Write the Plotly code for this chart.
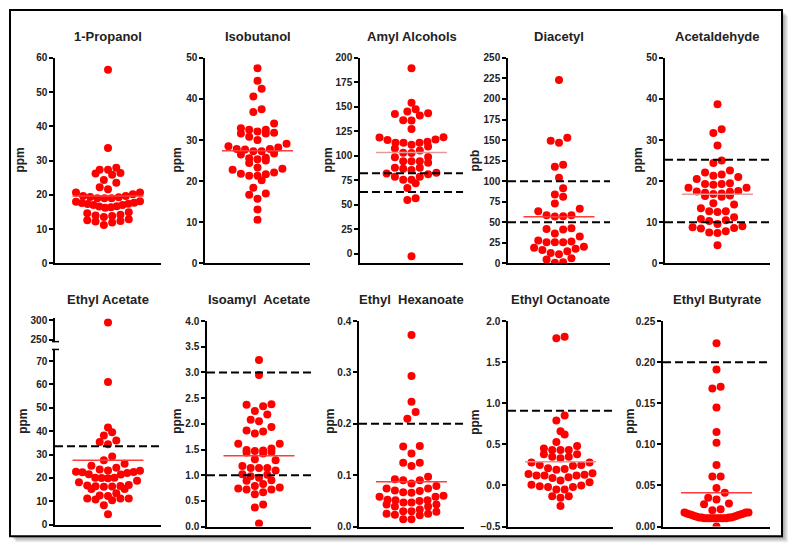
import plotly.graph_objects as go

# ---------------- data ----------------
titles = ["1-Propanol", "Isobutanol", "Amyl Alcohols", "Diacetyl", "Acetaldehyde",
          "Ethyl Acetate", "Isoamyl\u00a0 Acetate", "Ethyl\u00a0 Hexanoate", "Ethyl Octanoate", "Ethyl Butyrate"]
units = ["ppm", "ppm", "ppm", "ppb", "ppm", "ppm", "ppm", "ppm", "ppm", "ppm"]

propanol = [56.5, 33.7, 27.9, 27.3, 27.3, 26.4, 25.9, 26.2, 24.3, 23.5, 22.2, 21.6, 20.7, 20.2, 19.7,
            19.4, 19.0, 19.0, 19.0, 19.3, 19.7, 20.7, 18.0, 17.6, 17.3, 17.0, 16.6, 16.2, 16.4, 16.7,
            17.0, 17.4, 17.7, 18.1, 14.9, 14.2, 13.8, 13.5, 14.0, 14.6, 12.6, 12.2, 11.2, 11.9, 12.4, 12.9]
isobutanol = [47.5, 44.4, 42.5, 40.6, 37.5, 36.8, 34.0, 32.9, 32.5, 32.5, 32.1, 31.8, 31.6, 31.6, 30.8,
              30.0, 29.1, 28.5, 28.2, 27.8, 27.7, 27.8, 27.3, 27.3, 26.7, 26.5, 25.7, 25.6, 25.3, 25.0,
              24.4, 23.3, 23.0, 22.8, 22.1, 21.8, 21.7, 21.3, 21.3, 20.2, 18.4, 17.0, 16.7, 15.7, 13.1, 10.6]
amyl = [189.4, 154.2, 147.5, 145.2, 142.5, 143.5, 141.2, 136.2, 135.9, 127.2, 118.9, 118.6, 116.6, 116.0,
        114.3, 113.3, 113.3, 113.3, 111.3, 109.3, 107.3, 105.3, 102.7, 103.0, 98.3, 98.7, 94.4, 94.4, 94.4,
        92.7, 87.7, 87.7, 86.7, 85.4, 82.7, 81.7, 81.1, 78.4, 78.4, 75.4, 75.4, 71.8, 67.1, 56.5, 54.8, -2.7]
diacetyl = [223.1, 149.1, 146.8, 152.7, 117.5, 119.9, 104.0, 91.4, 83.9, 81.1, 72.8, 66.5, 63.3, 58.5,
            57.0, 57.4, 58.5, 42.7, 41.1, 41.9, 36.4, 32.8, 27.7, 25.7, 25.7, 25.7, 26.5, 20.2, 19.0, 17.8,
            16.2, 14.6, 12.7, 11.1, 4.7, 6.3, 0.8, 1.2]
acetaldehyde = [38.7, 32.6, 31.7, 28.7, 25.0, 24.4, 22.6, 22.1, 21.6, 21.3, 21.0, 20.5, 19.5, 19.3, 19.1,
                19.3, 18.4, 18.4, 17.6, 17.5, 17.4, 17.2, 17.0, 16.9, 16.5, 16.4, 16.2, 14.6, 14.3, 13.4,
                12.7, 12.7, 12.5, 11.2, 10.8, 10.5, 10.3, 9.6, 9.0, 8.8, 8.6, 8.5, 7.8, 7.5, 7.4, 4.4]
ethyl_acetate = [294.1, 61.1, 41.6, 39.5, 38.1, 36.0, 35.4, 34.4, 29.2, 27.6, 26.1, 25.2, 24.3, 23.6, 23.1,
                 22.5, 22.4, 22.1, 22.6, 23.2, 21.6, 21.4, 20.1, 19.8, 20.0, 20.1, 18.8, 18.1, 17.0, 16.5,
                 16.3, 16.2, 16.4, 16.7, 15.2, 15.2, 13.4, 12.5, 12.2, 11.2, 11.2, 11.2, 10.8, 10.4, 8.3, 4.4]
isoamyl = [3.24, 2.95, 2.37, 2.38, 2.34, 2.25, 2.18, 2.08, 2.05, 1.94, 1.87, 1.85, 1.81, 1.61, 1.61, 1.52,
           1.49, 1.47, 1.48, 1.45, 1.44, 1.42, 1.31, 1.29, 1.18, 1.14, 1.14, 1.14, 1.09, 1.02, 1.01, 0.98,
           0.95, 0.90, 0.89, 0.83, 0.79, 0.76, 0.74, 0.72, 0.72, 0.67, 0.63, 0.43, 0.37, 0.06]
hexanoate = [0.373, 0.293, 0.243, 0.223, 0.210, 0.157, 0.156, 0.142, 0.124, 0.124, 0.118, 0.097, 0.092,
             0.090, 0.090, 0.084, 0.079, 0.074, 0.074, 0.070, 0.069, 0.067, 0.066, 0.060, 0.058, 0.058,
             0.052, 0.051, 0.051, 0.050, 0.047, 0.047, 0.043, 0.043, 0.039, 0.039, 0.033, 0.030, 0.029,
             0.030, 0.025, 0.025, 0.022, 0.023, 0.014, 0.014]
octanoate = [1.81, 1.79, 0.85, 0.79, 0.66, 0.62, 0.53, 0.48, 0.45, 0.43, 0.43, 0.43, 0.38, 0.38, 0.35, 0.35,
             0.33, 0.28, 0.28, 0.25, 0.25, 0.24, 0.21, 0.19, 0.20, 0.15, 0.14, 0.13, 0.12, 0.12, 0.12, 0.10,
             0.09, 0.06, 0.01, 0.04, 0.00, -0.01, -0.02, -0.02, -0.05, -0.05, -0.13, -0.13, -0.15, -0.25]
butyrate = [0.223, 0.191, 0.170, 0.168, 0.145, 0.115, 0.102, 0.075, 0.061, 0.061, 0.047, 0.041, 0.035,
            0.033, 0.028, 0.027, 0.021, 0.020, 0.000,
            0.017, 0.017, 0.016, 0.015, 0.015, 0.014, 0.013, 0.013, 0.012, 0.012, 0.011, 0.011, 0.011,
            0.011, 0.010, 0.010, 0.010, 0.010, 0.010, 0.010, 0.010, 0.010, 0.010, 0.010, 0.016, 0.017, 0.014]

center_values = [19.7, 27.4, 103.3, 56.6, 16.8, 27.6, 1.38, 0.087, 0.29, 0.041]
reference_lines = [[], [], [82, 63], [100, 50], [25.2, 10], [33.5], [3.0, 1.0], [0.2], [0.91], [0.2]]
series = [propanol, isobutanol, amyl, diacetyl, acetaldehyde,
          ethyl_acetate, isoamyl, hexanoate, octanoate, butyrate]

# ---------------- layout geometry (pixels) ----------------
W, H = 792, 558
RED = "#ff0000"
LINE_RED = "#ff3b3b"
LINE_PINK = "#e59a9a"
FONT = "Liberation Sans, Arial, sans-serif"
TXT = "#222222"
MSIZE = 8

panels = [
    dict(l=55, r=161, t=53, b=263, lo=0, hi=60, t0=0, dt=10, fmt="", ux=20, cc=LINE_RED),
    dict(l=205, r=310, t=53, b=263, lo=0, hi=50, t0=0, dt=10, fmt="", ux=177, cc=LINE_RED),
    dict(l=360, r=463, t=53, b=263, lo=-10, hi=200, t0=0, dt=25, fmt="", ux=328, cc=LINE_PINK),
    dict(l=508, r=610, t=53, b=263, lo=0, hi=250, t0=0, dt=25, fmt="", ux=475, cc=LINE_RED),
    dict(l=665, r=770, t=53, b=263, lo=0, hi=50, t0=0, dt=10, fmt="", ux=638, cc=LINE_PINK),
    dict(l=55, r=161, t=351, b=530, lo=0, hi=75, t0=0, dt=10, fmt="", ux=23, cc=LINE_RED),
    dict(l=207, r=311, t=322, b=532, lo=0, hi=4.0, t0=0, dt=0.5, fmt=".1f", ux=177, cc=LINE_RED),
    dict(l=359, r=464, t=322, b=532, lo=0, hi=0.4, t0=0, dt=0.1, fmt=".1f", ux=330, cc=LINE_RED),
    dict(l=508, r=613, t=322, b=532, lo=-0.5, hi=2.0, t0=-0.5, dt=0.5, fmt=".1f", ux=475, cc=LINE_PINK),
    dict(l=663, r=770, t=322, b=532, lo=0, hi=0.25, t0=0, dt=0.05, fmt=".2f", ux=630, cc=LINE_RED),
]


def pxx(x):
    return x / W


def pxy(y):
    return 1 - y / H


def swarm(vals, ppu, D=8.0, s_max=8.3, half=32.0):
    order = sorted(range(len(vals)), key=lambda i: vals[i])
    xs = [0.0] * len(vals)
    groups, cur = [], []
    for i in order:
        if cur and (vals[i] - vals[cur[0]]) * ppu >= D:
            groups.append(cur)
            cur = []
        cur.append(i)
    if cur:
        groups.append(cur)
    for g in groups:
        n = len(g)
        s = s_max if n < 2 else min(s_max, 2 * half / (n - 1))
        if n % 2:
            slots = [0] + [k * sg for k in range(1, n // 2 + 1) for sg in (-1, 1)]
        else:
            slots = [(k + 0.5) * sg for k in range(n // 2) for sg in (-1, 1)]
        for idx, sl in zip(g, slots):
            xs[idx] = sl * s
    return xs


fig = go.Figure()
layout = dict(width=W, height=H, margin=dict(l=0, r=0, t=0, b=0),
              paper_bgcolor="white", plot_bgcolor="rgba(0,0,0,0)", showlegend=False)
shapes = []
annotations = []

# frame with shadow
for k in range(1, 7):
    shapes.append(dict(type="rect", xref="paper", yref="paper", layer="below",
                       x0=pxx(10 + k), x1=pxx(782 + k), y0=pxy(542 + k), y1=pxy(4 + k),
                       line=dict(width=0), fillcolor="rgba(0,0,0,0.07)"))
shapes.append(dict(type="rect", xref="paper", yref="paper", layer="below",
                   x0=pxx(10), x1=pxx(782), y0=pxy(542), y1=pxy(4),
                   line=dict(color="black", width=2), fillcolor="white"))

for i, (p, vals) in enumerate(zip(panels, series)):
    n = i + 1
    xa = "xaxis" if n == 1 else f"xaxis{n}"
    ya = "yaxis" if n == 1 else f"yaxis{n}"
    xr = "x" if n == 1 else f"x{n}"
    yr = "y" if n == 1 else f"y{n}"
    halfw = (p["r"] - p["l"]) / 2
    ppu = (p["b"] - p["t"]) / (p["hi"] - p["lo"])
    xs = swarm(vals, ppu)

    if n == 6:
        low_x = [x for x, v in zip(xs, vals) if v <= p["hi"]]
        low_v = [v for v in vals if v <= p["hi"]]
        up_v = [v for v in vals if v > p["hi"]]
        fig.add_trace(go.Scatter(x=low_x, y=low_v, xaxis=xr, yaxis=yr, mode="markers",
                                 marker=dict(color=RED, size=MSIZE), hoverinfo="y"))
        fig.add_trace(go.Scatter(x=[0] * len(up_v), y=up_v, xaxis="x11", yaxis="y11", mode="markers",
                                 marker=dict(color=RED, size=MSIZE), hoverinfo="y"))
        layout["xaxis11"] = dict(domain=[pxx(p["l"]), pxx(p["r"])], range=[-halfw, halfw], anchor="y11",
                                 visible=False, fixedrange=True)
        layout["yaxis11"] = dict(domain=[pxy(343), pxy(319)], range=[245, 305], anchor="x11",
                                 tickvals=[250, 300], showline=True, linecolor="black", linewidth=1.5,
                                 ticks="outside", ticklen=4, tickwidth=1.5, tickcolor="black",
                                 showgrid=False, zeroline=False, fixedrange=True,
                                 tickfont=dict(family=FONT, size=10, color=TXT, weight="bold"))
        for yy in (343, 351):
            shapes.append(dict(type="line", xref="paper", yref="paper", x0=pxx(52), x1=pxx(59),
                               y0=pxy(yy), y1=pxy(yy), line=dict(color="black", width=1.5)))
    else:
        fig.add_trace(go.Scatter(x=xs, y=vals, xaxis=xr, yaxis=yr, mode="markers",
                                 marker=dict(color=RED, size=MSIZE), hoverinfo="y"))

    layout[xa] = dict(domain=[pxx(p["l"]), pxx(p["r"])], range=[-halfw, halfw], anchor=yr,
                      showline=True, linecolor="black", linewidth=1.5, showticklabels=False,
                      ticks="", showgrid=False, zeroline=False, fixedrange=True)
    layout[ya] = dict(domain=[pxy(p["b"]), pxy(p["t"])], range=[p["lo"], p["hi"]], anchor=xr,
                      tickmode="linear", tick0=p["t0"], dtick=p["dt"], tickformat=p["fmt"],
                      showline=True, linecolor="black", linewidth=1.5,
                      ticks="outside", ticklen=4, tickwidth=1.5, tickcolor="black",
                      showgrid=False, zeroline=False, fixedrange=True,
                      tickfont=dict(family=FONT, size=10, color=TXT, weight="bold"))

    for v in reference_lines[i]:
        shapes.append(dict(type="line", xref=xr, yref=yr, x0=-halfw, x1=halfw, y0=v, y1=v,
                           layer="above", line=dict(color="black", width=2, dash="8px,4px")))
    shapes.append(dict(type="line", xref=xr, yref=yr, x0=-35.5, x1=35.5,
                       y0=center_values[i], y1=center_values[i], layer="above",
                       line=dict(color=p["cc"], width=1.5)))

    row_title_y = 31 if n <= 5 else 300
    annotations.append(dict(text=titles[i], x=pxx((p["l"] + p["r"]) / 2), y=pxy(row_title_y),
                            xref="paper", yref="paper", showarrow=False, xanchor="center", yanchor="middle",
                            font=dict(family=FONT, size=13, color=TXT, weight="bold")))
    unit_y = 158 if n <= 5 else 425
    annotations.append(dict(text=units[i], x=pxx(p["ux"]), y=pxy(unit_y), xref="paper", yref="paper",
                            showarrow=False, textangle=-90, xanchor="center", yanchor="middle",
                            font=dict(family=FONT, size=12, color=TXT, weight="bold")))

layout["shapes"] = shapes
layout["annotations"] = annotations
fig.update_layout(**layout)
fig.write_html("out.html", config={"displayModeBar": False},
               post_script="document.body.style.margin='0';document.body.style.overflow='hidden';")
